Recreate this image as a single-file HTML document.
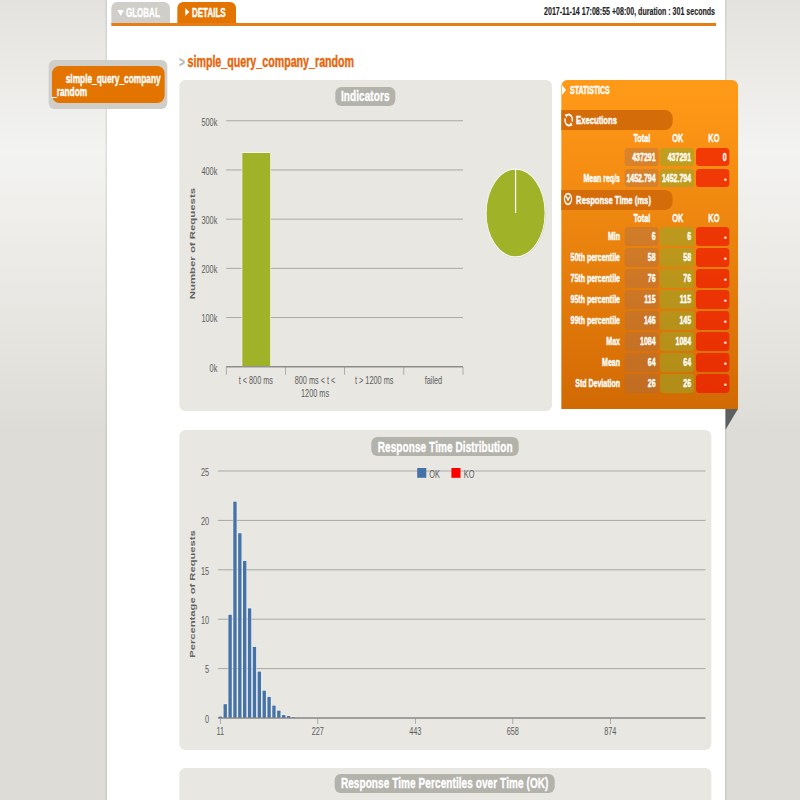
<!DOCTYPE html>
<html><head><meta charset="utf-8"><title>Gatling Stats - simple_query_company_random</title>
<style>
*{margin:0;padding:0;box-sizing:border-box}
html,body{width:800px;height:800px;overflow:hidden}
body{font-family:"Liberation Sans",sans-serif;background:#dddcd6;position:relative}
#bg{position:absolute;left:0;top:0;width:800px;height:430px;background:linear-gradient(to bottom,#e3e2de 0,#eae9e6 60px,#f3f3f1 150px,#eeedea 230px,#e6e5e0 330px,#dddcd6 100%)}
#w{position:absolute;left:0;top:0;width:1200px;height:800px;transform:scaleX(0.6666667);transform-origin:0 0}
#w div,#w svg{position:absolute}
#w{-webkit-text-stroke:0.4px currentColor}
#w svg text{-webkit-text-stroke:0}
#main{left:156.75px;top:0;width:934.5px;height:800px;background:#fff;border-left:4.5px solid transparent;border-right:4.5px solid transparent;background-clip:padding-box;box-shadow:inset 0 0 0 0 #000}
#mainsh{left:156.75px;top:0;width:934.5px;height:800px;background:linear-gradient(to right,rgba(120,120,110,0) 0,rgba(120,120,110,0.28) 4.5px,rgba(120,120,110,0) 4.5px,rgba(120,120,110,0) calc(100% - 4.5px),rgba(120,120,110,0.28) calc(100% - 4.5px),rgba(120,120,110,0) 100%)}
#navbox{left:73.12px;top:60px;width:177.98px;height:48.6px;background:#cfcec8;border-radius:9px/6px}
#navitem{left:78.0px;top:65.5px;width:168.9px;height:37px;background:#e37400;border-radius:11px/7.5px;color:#fff;font-weight:bold;font-size:12.5px;line-height:13px}
#navitem span{position:absolute;white-space:nowrap}
.tab{top:2px;height:22px;width:88px;border-radius:9px 9px 0 0/6px 6px 0 0;color:#fff;font-weight:bold;font-size:12px;line-height:21px;white-space:nowrap}
#tabg{left:166.5px;background:#cfcec9}
#tabd{left:265.5px;background:#e37400}
#oline{left:166.5px;top:23.2px;width:907.5px;height:2.7px;background:#e67d17}
#date{left:600.0px;width:472.5px;top:4px;text-align:right;font-size:10.6px;font-weight:bold;color:#222;white-space:nowrap;line-height:14px;-webkit-text-stroke:0.15px currentColor}
#ttl{left:268.5px;top:53px;font-size:16px;line-height:18px;font-weight:bold;color:#e8650a;white-space:nowrap}
#ttl i{font-style:normal;color:#bdbcb6;font-weight:bold;margin-right:4px;font-size:15px}
.panel{background:#e8e7e2;border-radius:9px/6px}
.pill{background:#b3b2ab;border-radius:9px/6px;color:#fff;font-weight:bold;font-size:15px;line-height:18.5px;text-align:center;white-space:nowrap;height:18.5px;letter-spacing:0.13px}
.ax{font-family:"Liberation Sans",sans-serif;font-size:11px;fill:#5c5c5c}
.axt{font-family:"Liberation Sans",sans-serif;font-size:10.5px;font-weight:bold;fill:#636363}
#stats{left:841.88px;top:79.5px;width:264.82px;height:329.5px;background:linear-gradient(to bottom,#ff9a18 0,#fe9716 8%,#d26a04 100%);border-radius:9px 9px 0 0/6px 6px 0 0;color:#fff;font-weight:bold}
#fold{left:1087.8px;top:409px;width:18.9px;height:21px}
.sec{left:0;width:167.62px;height:19.5px;background:#d46c0a;border-radius:0 12px 12px 0/0 8px 8px 0;font-size:11.5px;line-height:19.5px;white-space:nowrap}
.sec span{position:absolute;left:22.28px;top:0.5px}
.hd{width:52.12px;text-align:center;font-size:11px;line-height:14px;white-space:nowrap}
.lab{left:0;width:88.12px;text-align:right;font-size:10.5px;line-height:18.5px;height:18.5px;white-space:nowrap}
.cell{width:50.7px;height:18.8px;border-radius:5px/3.5px;text-align:right;padding-right:4.5px;font-size:10.5px;line-height:18.5px;white-space:nowrap}
.tot{left:95.32px;background:rgba(160,110,90,0.35)}
.ok{left:148.57px;background:rgba(150,170,40,0.55)}
.ko{left:201.82px;background:rgba(240,22,0,0.7)}
</style></head><body>
<div id="bg"></div>
<div id="w">
<div id="mainsh"></div><div id="main"></div>
<div id="navbox"></div>
<div id="navitem"><span style="left:20.55px;top:7.4px">simple_query_company</span><span style="left:0px;top:20.4px">_random</span></div>
<div class="tab" id="tabg"><div style="left:9.6px;top:7.5px;width:0;height:0;border-top:6px solid #fff;border-left:5.4px solid transparent;border-right:5.4px solid transparent"></div><span style="position:absolute;left:22.5px;top:0.5px">GLOBAL</span></div>
<div class="tab" id="tabd"><div style="left:12px;top:5.7px;width:0;height:0;border-left:6.6px solid #fff;border-top:4.5px solid transparent;border-bottom:4.5px solid transparent"></div><span style="position:absolute;left:22.5px;top:0.5px">DETAILS</span></div>
<div id="oline"></div>
<div id="date">2017-11-14 17:08:55 +08:00, duration : 301 seconds</div>
<div id="ttl"><i>&gt;</i>simple_query_company_random</div>

<div class="panel" style="left:269.25px;top:80px;width:558.38px;height:331px"></div>
<div class="pill" style="left:502.5px;top:87px;width:90.75px">Indicators</div>
<div class="panel" style="left:268.5px;top:430.2px;width:798.6px;height:319.8px"></div>
<div class="pill" style="left:557.25px;top:437.2px;width:221.1px;height:19px;line-height:19px">Response Time Distribution</div>
<div class="panel" style="left:268.5px;top:768.1px;width:798.75px;height:60px"></div>
<div class="pill" style="left:502.2px;top:774px;width:329.7px">Response Time Percentiles over Time (OK)</div>

<svg width="1200" height="800" style="left:0;top:0" viewBox="0 0 1200 800">
<rect x="339.38" y="366.25" width="355.12" height="1" fill="#a9a9a5"/>
<text x="325.95" y="371.55" text-anchor="end" class="ax">0k</text>
<rect x="339.38" y="317.05" width="355.12" height="1" fill="#a9a9a5"/>
<text x="325.95" y="322.35" text-anchor="end" class="ax">100k</text>
<rect x="339.38" y="267.85" width="355.12" height="1" fill="#a9a9a5"/>
<text x="325.95" y="273.15" text-anchor="end" class="ax">200k</text>
<rect x="339.38" y="218.65" width="355.12" height="1" fill="#a9a9a5"/>
<text x="325.95" y="223.95" text-anchor="end" class="ax">300k</text>
<rect x="339.38" y="169.45" width="355.12" height="1" fill="#a9a9a5"/>
<text x="325.95" y="174.75" text-anchor="end" class="ax">400k</text>
<rect x="339.38" y="120.25" width="355.12" height="1" fill="#a9a9a5"/>
<text x="325.95" y="125.55" text-anchor="end" class="ax">500k</text>

<rect x="363.0" y="152.5" width="42.75" height="214.25" fill="#A0B228" stroke="#f4f4ee" stroke-width="1"/>
<rect x="339.38" y="366.15" width="355.12" height="1.2" fill="#858585"/>
<rect x="338.88" y="366.75" width="1" height="8" fill="#909090"/>
<rect x="427.66" y="366.75" width="1" height="8" fill="#909090"/>
<rect x="516.44" y="366.75" width="1" height="8" fill="#909090"/>
<rect x="605.22" y="366.75" width="1" height="8" fill="#909090"/>
<rect x="694.00" y="366.75" width="1" height="8" fill="#909090"/>
<text x="383.77" y="384.25" text-anchor="middle" class="ax">t &lt; 800 ms</text>
<text x="472.55" y="384.25" text-anchor="middle" class="ax">800 ms &lt; t &lt;</text>
<text x="472.55" y="396.75" text-anchor="middle" class="ax">1200 ms</text>
<text x="561.33" y="384.25" text-anchor="middle" class="ax">t &gt; 1200 ms</text>
<text x="650.11" y="384.25" text-anchor="middle" class="ax">failed</text>

<text transform="translate(288.3,243.6) rotate(-90)" text-anchor="middle" class="axt" style="font-size:11.4px" dy="4">Number of Requests</text>
<ellipse cx="774.15" cy="213.9" rx="44.4" ry="44.1" fill="#000" opacity="0.10"/>
<ellipse cx="773.4" cy="213" rx="44.1" ry="43.9" fill="#A0B228" stroke="#f6f6f0" stroke-width="1.2"/>
<rect x="772.50" y="169" width="1.8" height="44" fill="#fff"/>

<rect x="326.85" y="717.50" width="731.25" height="1" fill="#a9a9a5"/>
<text x="313.8" y="722.80" text-anchor="end" class="ax">0</text>
<rect x="326.85" y="668.10" width="731.25" height="1" fill="#a9a9a5"/>
<text x="313.8" y="673.40" text-anchor="end" class="ax">5</text>
<rect x="326.85" y="618.70" width="731.25" height="1" fill="#a9a9a5"/>
<text x="313.8" y="624.00" text-anchor="end" class="ax">10</text>
<rect x="326.85" y="569.30" width="731.25" height="1" fill="#a9a9a5"/>
<text x="313.8" y="574.60" text-anchor="end" class="ax">15</text>
<rect x="326.85" y="519.90" width="731.25" height="1" fill="#a9a9a5"/>
<text x="313.8" y="525.20" text-anchor="end" class="ax">20</text>
<rect x="326.85" y="470.50" width="731.25" height="1" fill="#a9a9a5"/>
<text x="313.8" y="475.80" text-anchor="end" class="ax">25</text>

<rect x="327.28" y="716.02" width="6.45" height="1.98" fill="#fff" opacity="0.75"/>
<rect x="327.96" y="716.52" width="5.10" height="1.48" fill="#4572A7"/>
<rect x="334.59" y="703.67" width="6.45" height="14.33" fill="#fff" opacity="0.75"/>
<rect x="335.27" y="704.17" width="5.10" height="13.83" fill="#4572A7"/>
<rect x="341.91" y="614.25" width="6.45" height="103.75" fill="#fff" opacity="0.75"/>
<rect x="342.58" y="614.75" width="5.10" height="103.25" fill="#4572A7"/>
<rect x="349.22" y="501.13" width="6.45" height="216.87" fill="#fff" opacity="0.75"/>
<rect x="349.89" y="501.63" width="5.10" height="216.37" fill="#4572A7"/>
<rect x="356.53" y="532.74" width="6.45" height="185.26" fill="#fff" opacity="0.75"/>
<rect x="357.21" y="533.24" width="5.10" height="184.76" fill="#4572A7"/>
<rect x="363.84" y="560.41" width="6.45" height="157.59" fill="#fff" opacity="0.75"/>
<rect x="364.52" y="560.91" width="5.10" height="157.09" fill="#4572A7"/>
<rect x="371.16" y="607.83" width="6.45" height="110.17" fill="#fff" opacity="0.75"/>
<rect x="371.83" y="608.33" width="5.10" height="109.67" fill="#4572A7"/>
<rect x="378.47" y="646.36" width="6.45" height="71.64" fill="#fff" opacity="0.75"/>
<rect x="379.14" y="646.86" width="5.10" height="71.14" fill="#4572A7"/>
<rect x="385.78" y="671.06" width="6.45" height="46.94" fill="#fff" opacity="0.75"/>
<rect x="386.46" y="671.56" width="5.10" height="46.44" fill="#4572A7"/>
<rect x="393.09" y="690.13" width="6.45" height="27.87" fill="#fff" opacity="0.75"/>
<rect x="393.77" y="690.63" width="5.10" height="27.37" fill="#4572A7"/>
<rect x="400.41" y="696.36" width="6.45" height="21.64" fill="#fff" opacity="0.75"/>
<rect x="401.08" y="696.86" width="5.10" height="21.14" fill="#4572A7"/>
<rect x="407.72" y="705.05" width="6.45" height="12.95" fill="#fff" opacity="0.75"/>
<rect x="408.39" y="705.55" width="5.10" height="12.45" fill="#4572A7"/>
<rect x="415.03" y="710.09" width="6.45" height="7.91" fill="#fff" opacity="0.75"/>
<rect x="415.71" y="710.59" width="5.10" height="7.41" fill="#4572A7"/>
<rect x="422.34" y="714.54" width="6.45" height="3.46" fill="#fff" opacity="0.75"/>
<rect x="423.02" y="715.04" width="5.10" height="2.96" fill="#4572A7"/>
<rect x="429.66" y="715.52" width="6.45" height="2.48" fill="#fff" opacity="0.75"/>
<rect x="430.33" y="716.02" width="5.10" height="1.98" fill="#4572A7"/>
<rect x="436.97" y="716.71" width="6.45" height="1.29" fill="#fff" opacity="0.75"/>
<rect x="437.64" y="717.21" width="5.10" height="0.79" fill="#4572A7"/>
<rect x="444.28" y="717.10" width="6.45" height="0.90" fill="#fff" opacity="0.75"/>
<rect x="444.96" y="717.60" width="5.10" height="0.40" fill="#4572A7"/>

<rect x="326.85" y="717.4" width="731.25" height="1.2" fill="#858585"/>
<rect x="329.95" y="718.0" width="1" height="6" fill="#909090"/>
<text x="330.45" y="735.0" text-anchor="middle" class="ax">11</text>
<rect x="476.20" y="718.0" width="1" height="6" fill="#909090"/>
<text x="476.7" y="735.0" text-anchor="middle" class="ax">227</text>
<rect x="622.45" y="718.0" width="1" height="6" fill="#909090"/>
<text x="622.95" y="735.0" text-anchor="middle" class="ax">443</text>
<rect x="768.70" y="718.0" width="1" height="6" fill="#909090"/>
<text x="769.2" y="735.0" text-anchor="middle" class="ax">658</text>
<rect x="914.95" y="718.0" width="1" height="6" fill="#909090"/>
<text x="915.45" y="735.0" text-anchor="middle" class="ax">874</text>

<text transform="translate(288.3,594) rotate(-90)" text-anchor="middle" class="axt" style="font-size:11.2px" dy="4">Percentage of Requests</text>
<rect x="625.8" y="468" width="13.65" height="9.8" fill="#4572A7"/>
<text x="643.95" y="477.8" class="ax">OK</text>
<rect x="677.1" y="468" width="13.65" height="9.8" fill="#FF0000"/>
<text x="695.7" y="477.8" class="ax">KO</text>
</svg>

<div id="stats">
<div style="left:1.5px;top:5px;width:0;height:0;border-left:6.0px solid #fff;border-top:5px solid transparent;border-bottom:5px solid transparent"></div>
<div style="left:13.12px;top:3px;font-size:10.5px;line-height:14px;white-space:nowrap">STATISTICS</div>
<div class="sec" style="top:30.5px"><span>Executions</span></div>
<svg style="left:1.8px;top:32.5px" width="18" height="16" viewBox="-9 -8 18 16"><g fill="none" stroke="#fff" stroke-width="2"><path d="M-3.6,-4 A5.4,5.4 0 0 1 5.2,1.6"/><path d="M3.6,4 A5.4,5.4 0 0 1 -5.2,-1.6"/></g><polygon points="-6,-5.4 -2,-5.8 -3.2,-2" fill="#fff"/><polygon points="6,5.4 2,5.8 3.2,2" fill="#fff"/></svg>
<div class="hd" style="left:94.88px;top:51.5px">Total</div><div class="hd" style="left:148.88px;top:51.5px">OK</div><div class="hd" style="left:202.88px;top:51.5px">KO</div>

<div class="lab" style="top:68.00px"></div><div class="cell tot" style="top:68.00px">437291</div><div class="cell ok" style="top:68.00px">437291</div><div class="cell ko" style="top:68.00px">0</div>
<div class="lab" style="top:89.05px">Mean req/s</div><div class="cell tot" style="top:89.05px">1452.794</div><div class="cell ok" style="top:89.05px">1452.794</div><div class="cell ko" style="top:89.05px">-</div>

<div class="sec" style="top:110.5px"><span>Response Time (ms)</span></div>
<svg style="left:0.8px;top:111.25px" width="18" height="16" viewBox="-9 -8 18 16"><circle cx="0" cy="0" r="5.3" fill="none" stroke="#fff" stroke-width="1.8"/><path d="M-2.6,-2.6 L0,1 L2.6,-2.2" fill="none" stroke="#fff" stroke-width="1.8"/></svg>
<div class="hd" style="left:94.88px;top:131.5px">Total</div><div class="hd" style="left:148.88px;top:131.5px">OK</div><div class="hd" style="left:202.88px;top:131.5px">KO</div>

<div class="lab" style="top:147.40px">Min</div><div class="cell tot" style="top:147.40px">6</div><div class="cell ok" style="top:147.40px">6</div><div class="cell ko" style="top:147.40px">-</div>
<div class="lab" style="top:168.45px">50th percentile</div><div class="cell tot" style="top:168.45px">58</div><div class="cell ok" style="top:168.45px">58</div><div class="cell ko" style="top:168.45px">-</div>
<div class="lab" style="top:189.50px">75th percentile</div><div class="cell tot" style="top:189.50px">76</div><div class="cell ok" style="top:189.50px">76</div><div class="cell ko" style="top:189.50px">-</div>
<div class="lab" style="top:210.55px">95th percentile</div><div class="cell tot" style="top:210.55px">115</div><div class="cell ok" style="top:210.55px">115</div><div class="cell ko" style="top:210.55px">-</div>
<div class="lab" style="top:231.60px">99th percentile</div><div class="cell tot" style="top:231.60px">146</div><div class="cell ok" style="top:231.60px">145</div><div class="cell ko" style="top:231.60px">-</div>
<div class="lab" style="top:252.65px">Max</div><div class="cell tot" style="top:252.65px">1084</div><div class="cell ok" style="top:252.65px">1084</div><div class="cell ko" style="top:252.65px">-</div>
<div class="lab" style="top:273.70px">Mean</div><div class="cell tot" style="top:273.70px">64</div><div class="cell ok" style="top:273.70px">64</div><div class="cell ko" style="top:273.70px">-</div>
<div class="lab" style="top:294.75px">Std Deviation</div><div class="cell tot" style="top:294.75px">26</div><div class="cell ok" style="top:294.75px">26</div><div class="cell ko" style="top:294.75px">-</div>

</div>
<svg id="fold" viewBox="0 0 10 20" preserveAspectRatio="none"><polygon points="0,0 10,0 0,20" fill="#5d6062"/></svg>
</div>
</body></html>
